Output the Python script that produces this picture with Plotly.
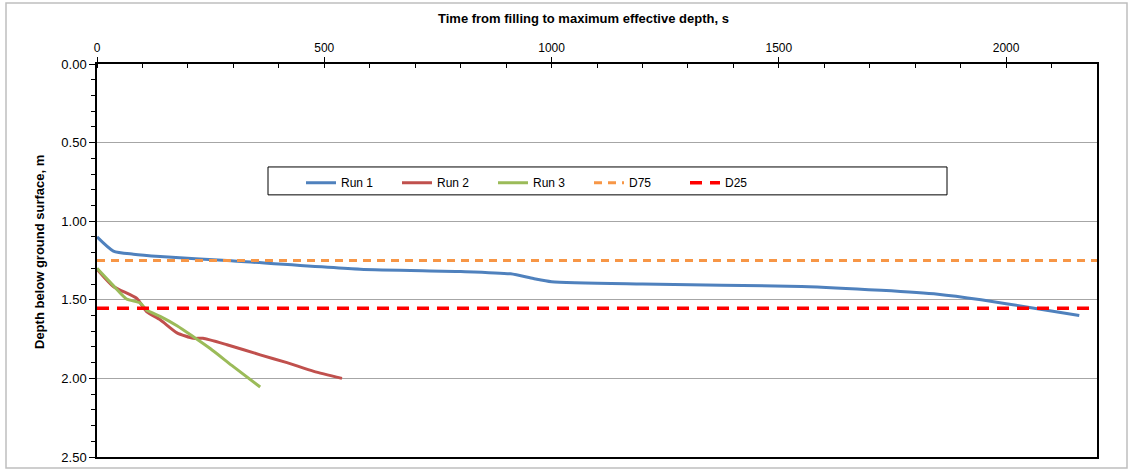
import plotly.graph_objects as go

# Data
run1_t = [0, 36, 80, 139, 286, 579, 800, 910, 960, 1000, 1200, 1550, 1725, 1850, 1945, 2055, 2161]
run1_d = [1.10, 1.19, 1.21, 1.225, 1.25, 1.305, 1.32, 1.335, 1.365, 1.385, 1.40, 1.415, 1.44, 1.465, 1.50, 1.55, 1.60]

run2_t = [0, 36, 87, 109, 139, 176, 212, 233, 286, 359, 418, 477, 539]
run2_d = [1.305, 1.415, 1.49, 1.575, 1.627, 1.71, 1.745, 1.745, 1.786, 1.85, 1.90, 1.955, 2.00]

run3_t = [0, 36, 65, 95, 109, 139, 176, 212, 249, 300, 359]
run3_d = [1.30, 1.41, 1.495, 1.52, 1.565, 1.605, 1.665, 1.735, 1.81, 1.925, 2.055]

d75_t = [0, 2200]
d75_d = [1.25, 1.25]
d25_t = [0, 2200]
d25_d = [1.553, 1.553]

x_title = "Time from filling to maximum effective depth, s"
y_title = "Depth below ground surface, m"

REG = "Liberation Sans, Arial, sans-serif"

fig = go.Figure()
fig.add_trace(go.Scatter(x=run1_t, y=run1_d, name="Run 1", mode="lines",
                         line=dict(color="#4F81BD", width=3, shape="spline", smoothing=0.6)))
fig.add_trace(go.Scatter(x=run2_t, y=run2_d, name="Run 2", mode="lines",
                         line=dict(color="#C0504D", width=3, shape="spline", smoothing=0.6)))
fig.add_trace(go.Scatter(x=run3_t, y=run3_d, name="Run 3", mode="lines",
                         line=dict(color="#9BBB59", width=3, shape="spline", smoothing=0.6)))
fig.add_trace(go.Scatter(x=d75_t, y=d75_d, name="D75", mode="lines",
                         line=dict(color="#F79646", width=3, dash="8px,6px")))
fig.add_trace(go.Scatter(x=d25_t, y=d25_d, name="D25", mode="lines",
                         line=dict(color="#FF0000", width=3.5, dash="12px,8px")))

fig.update_layout(
    width=1131, height=470,
    margin=dict(l=97, r=34, t=64, b=13),
    paper_bgcolor="white", plot_bgcolor="white",
    font=dict(family=REG, size=12, color="black"),
    showlegend=True,
    legend=dict(orientation="h", x=0.204, y=0.735, xanchor="left", yanchor="top",
                bgcolor="rgba(0,0,0,0)", borderwidth=0,
                font=dict(family=REG, size=12, color="black"),
                entrywidth=51, entrywidthmode="pixels", itemwidth=30,
                traceorder="normal"),
    xaxis=dict(side="top", range=[0, 2200], dtick=500, tick0=0, automargin=False,
               showgrid=False, zeroline=False,
               showline=True, linecolor="black", linewidth=1.5, mirror=True,
               ticks="outside", ticklen=5, tickcolor="black",
               minor=dict(dtick=100, ticks="inside", ticklen=4, tickcolor="black", showgrid=False),
               tickfont=dict(family=REG, size=12)),
    yaxis=dict(range=[2.5, 0], dtick=0.5, tick0=0, tickformat=".2f", automargin=False,
               showgrid=True, gridcolor="#A6A6A6", gridwidth=1, zeroline=False,
               showline=True, linecolor="black", linewidth=1.5, mirror=True,
               ticks="outside", ticklen=6, tickcolor="black",
               minor=dict(dtick=0.1, ticks="outside", ticklen=4, tickcolor="black", showgrid=False),
               tickfont=dict(family=REG, size=13)),
    annotations=[
        dict(text="<b>" + x_title + "</b>", xref="paper", yref="paper",
             x=0.486, y=(457 - 19) / 393, xanchor="center", yanchor="middle",
             showarrow=False, font=dict(family=REG, size=13, color="black")),
        dict(text="<b>" + y_title + "</b>", xref="paper", yref="paper",
             x=(40 - 97) / 1000, y=(457 - 252) / 393, xanchor="center", yanchor="middle",
             textangle=-90, showarrow=False, font=dict(family=REG, size=13, color="black")),
    ],
    shapes=[
        dict(type="rect", xref="paper", yref="paper", x0=0.171, x1=0.850, y0=0.667, y1=0.738,
             line=dict(color="black", width=1), fillcolor="rgba(0,0,0,0)", layer="above"),
        dict(type="rect", xref="paper", yref="paper", x0=-0.091, x1=1.030, y0=-0.028, y1=1.155,
             line=dict(color="#BFBFBF", width=1.5), fillcolor="rgba(0,0,0,0)"),
    ],
)

fig.write_html("out.html", config={"displayModeBar": False},
               post_script="document.body.style.margin='0';")
